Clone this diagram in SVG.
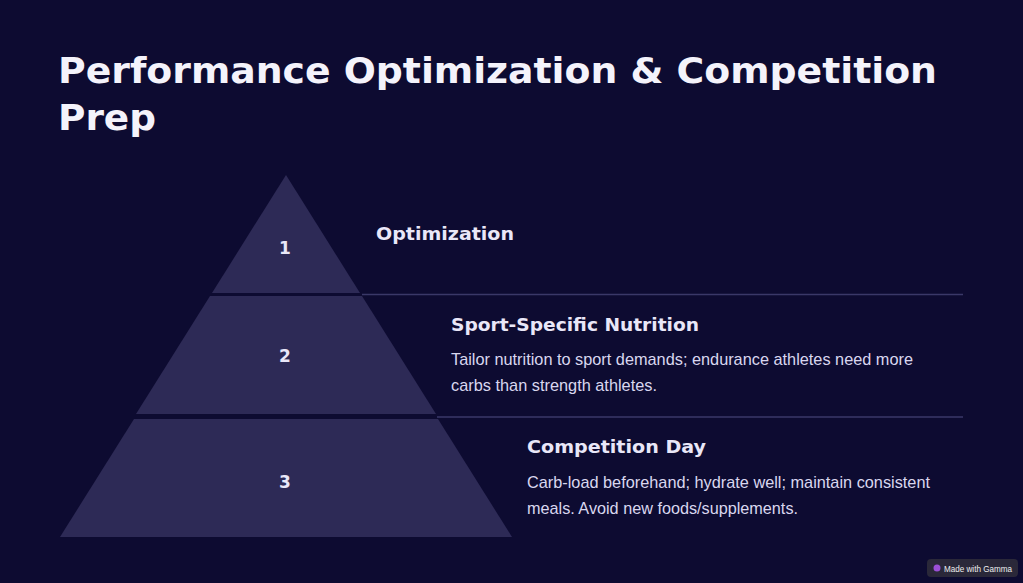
<svg xmlns="http://www.w3.org/2000/svg" width="1023" height="583" viewBox="0 0 1023 583">
<style>
.title{font-family:"DejaVu Sans","Liberation Sans",sans-serif;font-weight:bold;font-size:36px;fill:#f4f3fb}
.head{font-family:"DejaVu Sans","Liberation Sans",sans-serif;font-weight:bold;font-size:18px;fill:#e9e7f8}
.body{font-family:"Liberation Sans",Arial,sans-serif;font-size:17px;fill:#d9d7ef}
.num{font-family:"DejaVu Sans","Liberation Sans",sans-serif;font-weight:bold;font-size:17px;fill:#e9e7f8;text-anchor:middle}
.tier{fill:#2d2a56}
.rule{stroke:#3a3868;stroke-width:1.3;fill:none}
</style>
<rect width="1023" height="583" fill="#0d0b31"/>
<g id="title">
<text class="title" x="58" y="83" textLength="879" lengthAdjust="spacingAndGlyphs">Performance Optimization &amp; Competition</text>
<text class="title" x="58" y="130" textLength="98" lengthAdjust="spacingAndGlyphs">Prep</text>
</g>
<g id="connectors">
<line class="rule" x1="362" y1="294.5" x2="963" y2="294.5"/>
<line class="rule" x1="437" y1="417" x2="963" y2="417"/>
</g>
<g id="tier1">
<polygon class="tier" points="286,175 360,293 212,293"/>
<text class="num" x="285" y="254">1</text>
<text class="head" x="376" y="240" textLength="138" lengthAdjust="spacingAndGlyphs">Optimization</text>
</g>
<g id="tier2">
<polygon class="tier" points="210,296 362,296 436,414 136,414"/>
<text class="num" x="285" y="362">2</text>
<text class="head" x="451" y="331" textLength="248" lengthAdjust="spacingAndGlyphs">Sport-Specific Nutrition</text>
<text class="body" x="451" y="365" textLength="462" lengthAdjust="spacingAndGlyphs">Tailor nutrition to sport demands; endurance athletes need more</text>
<text class="body" x="451" y="391" textLength="206" lengthAdjust="spacingAndGlyphs">carbs than strength athletes.</text>
</g>
<g id="tier3">
<polygon class="tier" points="134,419 438,419 512,537 60,537"/>
<text class="num" x="285" y="488">3</text>
<text class="head" x="527" y="453" textLength="179" lengthAdjust="spacingAndGlyphs">Competition Day</text>
<text class="body" x="527" y="488" textLength="403" lengthAdjust="spacingAndGlyphs">Carb-load beforehand; hydrate well; maintain consistent</text>
<text class="body" x="527" y="514" textLength="271" lengthAdjust="spacingAndGlyphs">meals. Avoid new foods/supplements.</text>
</g>
<g id="badge">
<rect x="927" y="559" width="91" height="18" rx="4" fill="#2a2839"/>
<circle cx="937" cy="568" r="3.5" fill="#9b4fd6"/>
<text x="944" y="571.5" font-family="Liberation Sans, Arial, sans-serif" font-size="9" fill="#eeeeee" textLength="68" lengthAdjust="spacingAndGlyphs">Made with Gamma</text>
</g>
</svg>
